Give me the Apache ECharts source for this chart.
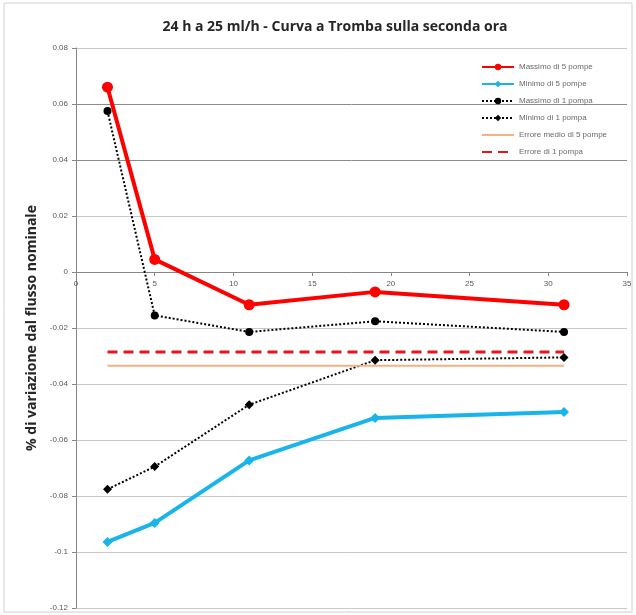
<!DOCTYPE html>
<html>
<head>
<meta charset="utf-8">
<script src="https://cdn.jsdelivr.net/npm/echarts@6/dist/echarts.min.js"></script>
<style>
  html, body { margin: 0; padding: 0; background: #fff; }
  #chart { width: 636px; height: 615px; }
</style>
</head>
<body>
<div id="chart"></div>
<script>
// ore / punti di misura
var xValues = [2, 5, 11, 19, 31]
var massimo5 = [0.066, 0.0045, -0.0117, -0.0071, -0.0117]
var minimo5 = [-0.0964, -0.0896, -0.0673, -0.0521, -0.0500]
var massimo1 = [0.0575, -0.0155, -0.0214, -0.0176, -0.0214]
var minimo1 = [-0.0776, -0.0695, -0.0474, -0.0315, -0.0305]
var erroreMedio5 = [-0.0335, -0.0335]
var errore1 = [-0.0286, -0.0286]
var erroreX = [2, 31]

function pts(xs, ys) {
    return xs.map(function (x, i) { return [x, ys[i]] })
}

var labelStyle = { color: '#595959', fontSize: 8, fontFamily: 'Liberation Sans' }

var option = {
    animation: false,
    backgroundColor: '#fff',
    title: {
        text: '24 h a 25 ml/h - Curva a Tromba sulla seconda ora',
        left: 330,
        textAlign: 'center',
        top: 15,
        textStyle: { fontSize: 14, fontWeight: 'bold', color: '#262626', fontFamily: 'Open Sans' }
    },
    graphic: [{
        type: 'rect',
        shape: { x: 4, y: 3, width: 628, height: 609 },
        style: { fill: 'none', stroke: '#d0d0d0', lineWidth: 1 },
        silent: true
    }],
    legend: {
        orient: 'vertical',
        left: 476,
        top: 58,
        itemWidth: 32,
        itemHeight: 8,
        itemGap: 9,
        textStyle: { color: '#6a6a6a', fontSize: 8, fontFamily: 'Liberation Sans' },
        data: [
            'Massimo di 5 pompe',
            'Minimo di 5 pompe',
            'Massimo di 1 pompa',
            'Minimo di 1 pompa',
            { name: 'Errore medio di 5 pompe', itemStyle: { opacity: 0 } },
            { name: 'Errore di 1 pompa', itemStyle: { opacity: 0 } }
        ]
    },
    grid: { left: 76, right: 9, top: 48, bottom: 7 },
    xAxis: {
        type: 'value',
        min: 0, max: 35, interval: 5,
        offset: -336,   // asse sullo zero
        axisLine: { onZero: false, lineStyle: { color: '#868686' } },
        axisTick: { show: true, length: 4, lineStyle: { color: '#868686' } },
        axisLabel: labelStyle,
        splitLine: { show: false }
    },
    yAxis: {
        type: 'value',
        min: -0.12, max: 0.08, interval: 0.02,
        name: '% di variazione dal flusso nominale',
        nameLocation: 'middle',
        nameGap: 37,
        nameTextStyle: { fontSize: 14, fontWeight: 'bold', color: '#262626', fontFamily: 'Open Sans' },
        axisLine: { show: true, lineStyle: { color: '#868686' } },
        axisTick: { show: true, length: 4, lineStyle: { color: '#868686' } },
        axisLabel: {
            color: '#595959', fontSize: 8, fontFamily: 'Liberation Sans',
            formatter: function (v) { return String(Math.round(v * 100) / 100) }
        },
        splitLine: {
            lineStyle: {
                color: ['#c8c8c8', '#c8c8c8', '#c8c8c8', '#c8c8c8', '#c8c8c8', '#c8c8c8',
                        '#c8c8c8', '#c8c8c8', '#8c8c8c', '#8c8c8c', '#c8c8c8']
            }
        }
    },
    series: [
        {
            name: 'Massimo di 5 pompe',
            type: 'line',
            data: pts(xValues, massimo5),
            symbol: 'circle', symbolSize: 11,
            itemStyle: { color: '#ff0000' },
            lineStyle: { width: 4, color: '#ff0000' },
            z: 5
        },
        {
            name: 'Minimo di 5 pompe',
            type: 'line',
            data: pts(xValues, minimo5),
            symbol: 'diamond', symbolSize: 10,
            itemStyle: { color: '#19b4ea' },
            lineStyle: { width: 4, color: '#19b4ea' },
            z: 5
        },
        {
            name: 'Massimo di 1 pompa',
            type: 'line',
            data: pts(xValues, massimo1),
            symbol: 'circle', symbolSize: 8,
            itemStyle: { color: '#000' },
            lineStyle: { width: 2, type: 'dotted', color: '#000' }
        },
        {
            name: 'Minimo di 1 pompa',
            type: 'line',
            data: pts(xValues, minimo1),
            symbol: 'diamond', symbolSize: 9,
            itemStyle: { color: '#000' },
            lineStyle: { width: 2, type: 'dotted', color: '#000' }
        },
        {
            name: 'Errore medio di 5 pompe',
            type: 'line',
            data: pts(erroreX, erroreMedio5),
            symbol: 'none',
            itemStyle: { color: '#f4b183' },
            lineStyle: { width: 2, color: '#f4b183' }
        },
        {
            name: 'Errore di 1 pompa',
            type: 'line',
            data: pts(erroreX, errore1),
            symbol: 'none',
            itemStyle: { color: '#e8161b' },
            lineStyle: { width: 3, type: [10, 6], color: '#e8161b' }
        }
    ]
}

var myChart = echarts.init(document.getElementById('chart'))
myChart.setOption(option)
</script>
</body>
</html>
